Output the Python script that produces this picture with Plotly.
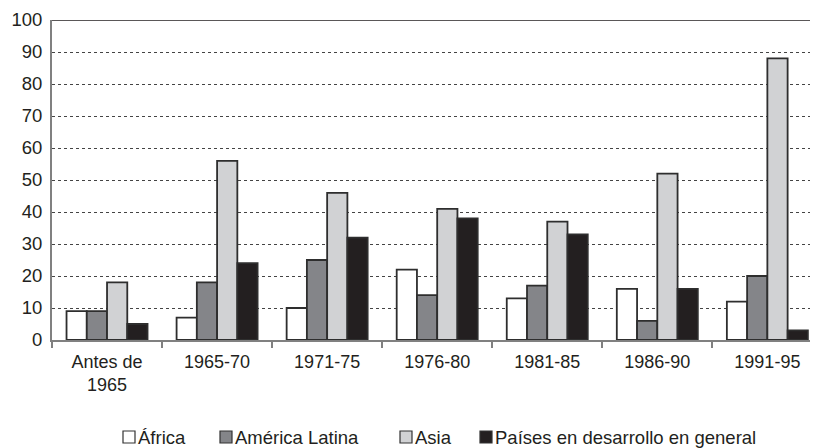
import plotly.graph_objects as go

categories = ["Antes de<br>1965", "1965-70", "1971-75", "1976-80", "1981-85", "1986-90", "1991-95"]
africa = [9, 7, 10, 22, 13, 16, 12]
america_latina = [9, 18, 25, 14, 17, 6, 20]
asia = [18, 56, 46, 41, 37, 52, 88]
paises = [5, 24, 32, 38, 33, 16, 3]

series_names = ["África", "América Latina", "Asia", "Países en desarrollo en general"]
series_values = [africa, america_latina, asia, paises]
series_colors = ["#ffffff", "#848589", "#d1d2d4", "#231f20"]

FONT = "Liberation Sans, Arial, sans-serif"
OFF = 8  # page body margin compensation
W, H = 818 - OFF, 448 - OFF
L, R, T, B = 52 - OFF, 0, 20 - OFF, 448 - 340
plot_w, plot_h = W - L - R, H - T - B

fig = go.Figure()
for name, vals, col in zip(series_names, series_values, series_colors):
    fig.add_trace(go.Bar(
        x=categories, y=vals, name=name,
        marker=dict(color=col, line=dict(color="#2e2e2e", width=1.8)),
    ))

# custom legend (page pixel positions converted to paper coordinates)
def px(x):
    return (x - OFF - L) / plot_w
def py(y):
    return (H - B - (y - OFF)) / plot_h

legend_x = [123, 220, 400, 480]
legend_y = 437
sq = 12
shapes = [dict(type="line", xref="paper", yref="y", x0=0, x1=1, y0=100, y1=100,
               line=dict(color="#231f20", width=1.5))]
annotations = []
for name, col, lx in zip(series_names, series_colors, legend_x):
    shapes.append(dict(type="rect", xref="paper", yref="paper",
                       x0=px(lx), x1=px(lx + sq), y0=py(legend_y - sq / 2), y1=py(legend_y + sq / 2),
                       fillcolor=col, line=dict(color="#333333", width=1.2)))
    annotations.append(dict(text=name, xref="paper", yref="paper", x=px(lx + sq + 1), y=py(legend_y),
                            xanchor="left", yanchor="middle", showarrow=False,
                            font=dict(family=FONT, size=18.5, color="#231f20")))

fig.update_layout(
    width=W, height=H,
    margin=dict(l=L, r=R, t=T, b=B, autoexpand=False),
    paper_bgcolor="white", plot_bgcolor="white",
    barmode="group", bargap=0.264, bargroupgap=0,
    font=dict(family=FONT, size=18, color="#231f20"),
    showlegend=False,
    xaxis=dict(showline=True, linecolor="#808080", linewidth=2, range=[-0.5, 6.46],
               ticks="outside", tickson="boundaries", ticklen=6, tickcolor="#808080", tickwidth=2,
               ticklabelstandoff=4, showgrid=False, tickfont=dict(size=18)),
    yaxis=dict(range=[0, 100], dtick=10, showline=True, linecolor="#808080", linewidth=2,
               showgrid=True, gridcolor="#444444", griddash="dot", gridwidth=1,
               zeroline=False, ticks="", ticklabelstandoff=4, tickfont=dict(size=18.5)),
    shapes=shapes,
    annotations=annotations,
)

fig.write_html("out.html")
